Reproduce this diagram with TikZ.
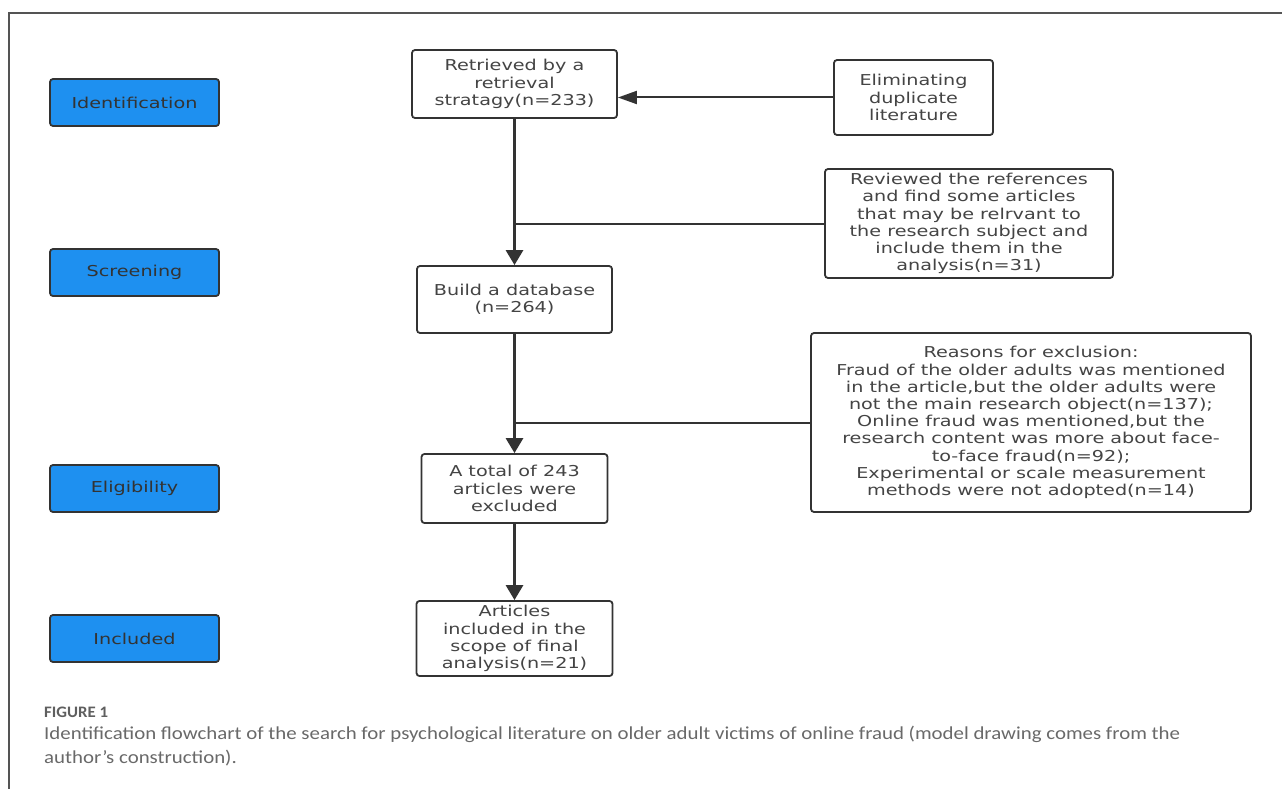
\documentclass[tikz,border=0pt]{standalone}
\usepackage{fontspec}
\usetikzlibrary{arrows.meta}
\newfontfamily\boxfont[FakeStretch=1.28]{DejaVu Sans}
\newfontfamily\capfont[FakeStretch=1.14]{Carlito}
\newfontfamily\figfont[FakeStretch=1.05]{Carlito}
\definecolor{stageblue}{RGB}{30,144,240}
\definecolor{edge}{RGB}{51,51,51}
\definecolor{boxtext}{RGB}{68,68,68}
\definecolor{captext}{RGB}{105,105,105}
\tikzset{
  basebox/.style={draw=edge, line width=1.8pt, rounded corners=3pt, inner sep=0pt, align=center,
    font=\boxfont\fontsize{15}{17.2}\selectfont},
  stagebox/.style={basebox, fill=stageblue, text=edge, minimum width=169pt, minimum height=47pt},
  flowbox/.style={basebox, fill=white, text=boxtext},
  arrowline/.style={draw=edge, line width=2.8pt, -{Triangle[length=15pt,width=17pt]}},
  sidearrow/.style={draw=edge, line width=2pt, -{Triangle[length=19pt,width=13pt]}},
  branchline/.style={draw=edge, line width=2pt},
  frameline/.style={draw=captext!80!black, line width=1.3pt}
}
\begin{document}
\begin{tikzpicture}[x=1pt,y=-1pt]
\useasboundingbox (0,0) rectangle (1282,789);
\fill[white] (0,0) rectangle (1282,789);
\draw[frameline] (9,789) -- (9,13) -- (1282,13);

% stage labels
\node[stagebox] (ident) at (134.5,102.5) {Identification};
\node[stagebox] (screen) at (134.5,272.5) {Screening};
\node[stagebox] (elig) at (134.5,488.5) {Eligibility};
\node[stagebox] (incl) at (134.5,638.5) {Included};

% flow boxes
\node[flowbox, minimum width=205pt, minimum height=68pt] (retr) at (514.5,84) {Retrieved by a\\retrieval\\stratagy(n=233)};
\node[flowbox, minimum width=159pt, minimum height=75pt] (elim) at (913.5,97.5) {Eliminating\\duplicate\\literature};
\node[flowbox, minimum width=288pt, minimum height=109pt] (rev) at (969,223.5) {Reviewed the references\\and find some articles\\that may be relrvant to\\the research subject and\\include them in the\\analysis(n=31)};
\node[flowbox, minimum width=195pt, minimum height=67pt] (build) at (514.5,299.5) {Build a database\\(n=264)};
\node[flowbox, minimum width=440pt, minimum height=179pt] (reasons) at (1031,422.5) {Reasons for exclusion:\\Fraud of the older adults was mentioned\\in the article,but the older adults were\\not the main research object(n=137);\\Online fraud was mentioned,but the\\research content was more about face-\\to-face fraud(n=92);\\Experimental or scale measurement\\methods were not adopted(n=14)};
\node[flowbox, minimum width=186pt, minimum height=69pt] (total) at (514.5,488.5) {A total of 243\\articles were\\excluded};
\node[flowbox, minimum width=196pt, minimum height=75pt] (art) at (514.5,638.5) {Articles\\included in the\\scope of final\\analysis(n=21)};

% connectors
\draw[sidearrow] (elim.west) -- (elim.west -| retr.east);
\draw[arrowline] (retr.south) -- (build.north);
\draw[branchline] (rev.west) -- (rev.west -| retr.south);
\draw[arrowline] (build.south) -- (total.north);
\draw[branchline] (reasons.west) -- (reasons.west -| build.south);
\draw[arrowline] (total.south) -- (art.north);

% caption
\node[anchor=west, inner sep=0pt, text=captext!90!black, font=\figfont\bfseries\fontsize{16}{18}\selectfont] (figlabel) at (44,712) {FIGURE 1};
\node[anchor=west, inner sep=0pt, align=left, text=captext, font=\capfont\fontsize{18.3}{24}\selectfont] (caption) at (44,746) {Identification flowchart of the search for psychological literature on older adult victims of online fraud (model drawing comes from the\\author’s construction).};
\end{tikzpicture}
\end{document}
